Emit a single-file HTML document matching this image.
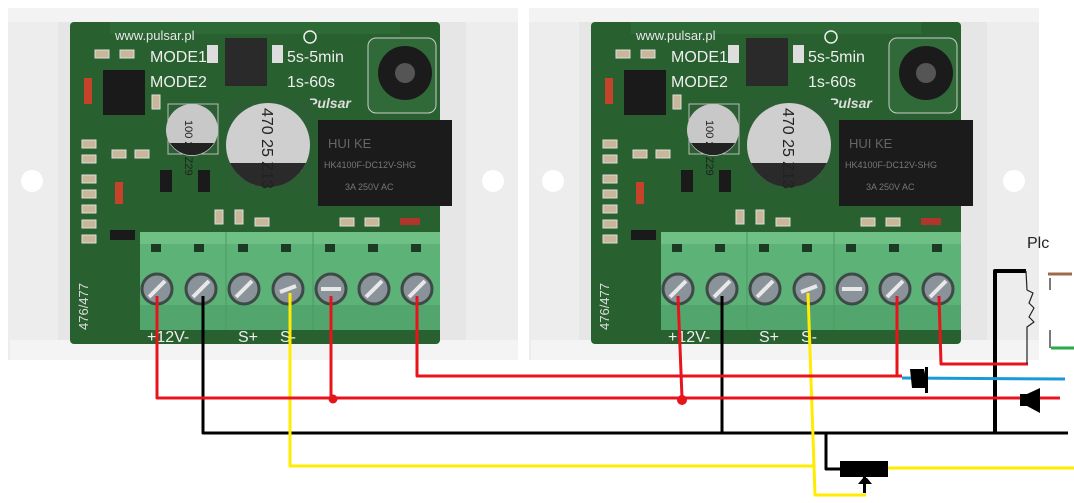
<!DOCTYPE html>
<html><head><meta charset="utf-8"><style>
html,body{margin:0;padding:0;background:#fff;}
svg{display:block;}
text{font-family:"Liberation Sans",sans-serif;}
</style></head><body>
<svg width="1074" height="503" viewBox="0 0 1074 503" xmlns="http://www.w3.org/2000/svg">
<rect width="1074" height="503" fill="#fff"/>

<!-- BOARD 1 -->
<g transform="translate(0,0)">
  <rect x="8" y="8" width="510" height="352" fill="#e6e6e6"/>
  <rect x="8" y="8" width="510" height="14" fill="#f3f3f3"/>
  <rect x="8" y="22" width="50" height="338" fill="#ededed"/>
  <rect x="466" y="22" width="52" height="338" fill="#ededed"/>
  <rect x="10" y="340" width="508" height="20" fill="#f4f4f4"/>
  <circle cx="32" cy="181" r="11" fill="#fff"/>
  <circle cx="493" cy="181" r="11" fill="#fff"/>
  <rect x="70" y="22" width="370" height="322" rx="4" fill="#28602f"/>
  <rect x="110" y="22" width="290" height="12" fill="#2e6a36"/>
  <g fill="#c9b79a" stroke="#ddd" stroke-width="1">
    <rect x="82" y="140" width="14" height="8"/><rect x="82" y="155" width="14" height="8"/>
    <rect x="82" y="175" width="14" height="8"/><rect x="82" y="190" width="14" height="8"/>
    <rect x="82" y="205" width="14" height="8"/><rect x="82" y="220" width="14" height="8"/>
    <rect x="82" y="235" width="14" height="8"/><rect x="112" y="150" width="14" height="8"/>
    <rect x="135" y="150" width="14" height="8"/><rect x="95" y="50" width="14" height="8"/>
    <rect x="120" y="50" width="14" height="8"/><rect x="152" y="95" width="8" height="14"/>
    <rect x="215" y="210" width="8" height="14"/><rect x="235" y="210" width="8" height="14"/>
    <rect x="255" y="218" width="14" height="8"/><rect x="340" y="218" width="14" height="8"/>
    <rect x="365" y="218" width="14" height="8"/>
  </g>
  <rect x="84" y="78" width="8" height="26" fill="#c4432a"/>
  <rect x="115" y="182" width="8" height="22" fill="#c4432a"/>
  <rect x="400" y="218" width="20" height="7" fill="#b0352a"/>
  <g fill="#1a1a1a"><rect x="160" y="170" width="12" height="22"/><rect x="198" y="170" width="12" height="22"/><rect x="110" y="230" width="25" height="10"/></g>
  <text x="115" y="40" font-size="13" fill="#e8e8e8">www.pulsar.pl</text>
  <text x="150" y="62" font-size="16" fill="#eee">MODE1</text>
  <text x="150" y="87" font-size="16" fill="#eee">MODE2</text>
  <rect x="207" y="45" width="11" height="18" fill="#ddd"/>
  <rect x="272" y="45" width="11" height="18" fill="#ddd"/>
  <rect x="225" y="38" width="42" height="48" fill="#2a2a2a"/>
  <text x="287" y="62" font-size="16" fill="#eee">5s-5min</text>
  <text x="287" y="87" font-size="16" fill="#eee">1s-60s</text>
  <circle cx="310" cy="37" r="6" fill="none" stroke="#eee" stroke-width="1.5"/>
  <text x="308" y="108" font-size="14" font-style="italic" font-weight="bold" fill="#ddd">Pulsar</text>
  <rect x="368" y="38" width="68" height="75" rx="8" fill="#2f6a38" stroke="#ccc" stroke-width="1"/>
  <circle cx="405" cy="73" r="27" fill="#1b1b1b"/>
  <circle cx="405" cy="73" r="10" fill="#555"/>
  <rect x="103" y="70" width="42" height="45" fill="#1a1a1a"/>
  <rect x="168" y="104" width="50" height="50" fill="#2b5f33" stroke="#bbb" stroke-width="1"/>
  <circle cx="192" cy="130" r="26" fill="#c8c8c8"/>
  <path d="M170 143 A26 26 0 0 0 214 143 Z" fill="#222"/>
  <text x="180" y="135" font-size="11" fill="#222" transform="rotate(90 190 130)">100 25 Z29</text>
  <rect x="228" y="100" width="85" height="90" fill="#2b5f33"/>
  <circle cx="268" cy="145" r="42" fill="#cfcfcf"/>
  <path d="M230 163 A42 42 0 0 0 306 163 Z" fill="#2a2a2a"/>
  <text x="236" y="146" font-size="16" fill="#222" transform="rotate(90 268 140)">470 25 Z13</text>
  <rect x="318" y="120" width="134" height="86" fill="#1b1b1b"/>
  <text x="328" y="148" font-size="13" fill="#666">HUI KE</text>
  <text x="324" y="168" font-size="9" fill="#777">HK4100F-DC12V-SHG</text>
  <text x="345" y="190" font-size="9" fill="#777">3A 250V AC</text>
  <rect x="140" y="232" width="300" height="98" fill="#5db277"/>
  <rect x="140" y="232" width="300" height="12" fill="#6ec085"/>
  <rect x="140" y="305" width="300" height="25" fill="#52a56c"/>
  <line x1="226" y1="232" x2="226" y2="330" stroke="#4a9a62"/>
  <line x1="313" y1="232" x2="313" y2="330" stroke="#4a9a62"/>
  <g fill="#1d3a24">
    <rect x="151" y="244" width="10" height="8"/><rect x="194" y="244" width="10" height="8"/>
    <rect x="238" y="244" width="10" height="8"/><rect x="281" y="244" width="10" height="8"/>
    <rect x="325" y="244" width="10" height="8"/><rect x="368" y="244" width="10" height="8"/>
    <rect x="411" y="244" width="10" height="8"/>
  </g>
  <g fill="#8a939a" stroke="#3d4a45" stroke-width="3">
    <circle cx="157" cy="289" r="15"/><circle cx="201" cy="289" r="15"/>
    <circle cx="244" cy="289" r="15"/><circle cx="288" cy="289" r="15"/>
    <circle cx="331" cy="289" r="15"/><circle cx="374" cy="289" r="15"/>
    <circle cx="417" cy="289" r="15"/>
  </g>
  <g stroke="#e8e8e8" stroke-width="4">
    <line x1="149" y1="297" x2="165" y2="281"/><line x1="193" y1="297" x2="209" y2="281"/>
    <line x1="236" y1="297" x2="252" y2="281"/><line x1="280" y1="292" x2="296" y2="286"/>
    <line x1="321" y1="289" x2="341" y2="289"/><line x1="366" y1="297" x2="382" y2="281"/>
    <line x1="409" y1="297" x2="425" y2="281"/>
  </g>
  <text x="147" y="342" font-size="16" fill="#eee">+12V-</text>
  <text x="238" y="342" font-size="16" fill="#eee">S+</text>
  <text x="280" y="342" font-size="16" fill="#eee">S-</text>
  <text x="88" y="330" font-size="13" fill="#ddd" transform="rotate(-90 88 330)">476/477</text>
</g>

<!-- BOARD 2 -->
<g transform="translate(521,0)">
  <rect x="8" y="8" width="510" height="352" fill="#e6e6e6"/>
  <rect x="8" y="8" width="510" height="14" fill="#f3f3f3"/>
  <rect x="8" y="22" width="50" height="338" fill="#ededed"/>
  <rect x="466" y="22" width="52" height="338" fill="#ededed"/>
  <rect x="10" y="340" width="508" height="20" fill="#f4f4f4"/>
  <circle cx="32" cy="181" r="11" fill="#fff"/>
  <circle cx="493" cy="181" r="11" fill="#fff"/>
  <rect x="70" y="22" width="370" height="322" rx="4" fill="#28602f"/>
  <rect x="110" y="22" width="290" height="12" fill="#2e6a36"/>
  <g fill="#c9b79a" stroke="#ddd" stroke-width="1">
    <rect x="82" y="140" width="14" height="8"/><rect x="82" y="155" width="14" height="8"/>
    <rect x="82" y="175" width="14" height="8"/><rect x="82" y="190" width="14" height="8"/>
    <rect x="82" y="205" width="14" height="8"/><rect x="82" y="220" width="14" height="8"/>
    <rect x="82" y="235" width="14" height="8"/><rect x="112" y="150" width="14" height="8"/>
    <rect x="135" y="150" width="14" height="8"/><rect x="95" y="50" width="14" height="8"/>
    <rect x="120" y="50" width="14" height="8"/><rect x="152" y="95" width="8" height="14"/>
    <rect x="215" y="210" width="8" height="14"/><rect x="235" y="210" width="8" height="14"/>
    <rect x="255" y="218" width="14" height="8"/><rect x="340" y="218" width="14" height="8"/>
    <rect x="365" y="218" width="14" height="8"/>
  </g>
  <rect x="84" y="78" width="8" height="26" fill="#c4432a"/>
  <rect x="115" y="182" width="8" height="22" fill="#c4432a"/>
  <rect x="400" y="218" width="20" height="7" fill="#b0352a"/>
  <g fill="#1a1a1a"><rect x="160" y="170" width="12" height="22"/><rect x="198" y="170" width="12" height="22"/><rect x="110" y="230" width="25" height="10"/></g>
  <text x="115" y="40" font-size="13" fill="#e8e8e8">www.pulsar.pl</text>
  <text x="150" y="62" font-size="16" fill="#eee">MODE1</text>
  <text x="150" y="87" font-size="16" fill="#eee">MODE2</text>
  <rect x="207" y="45" width="11" height="18" fill="#ddd"/>
  <rect x="272" y="45" width="11" height="18" fill="#ddd"/>
  <rect x="225" y="38" width="42" height="48" fill="#2a2a2a"/>
  <text x="287" y="62" font-size="16" fill="#eee">5s-5min</text>
  <text x="287" y="87" font-size="16" fill="#eee">1s-60s</text>
  <circle cx="310" cy="37" r="6" fill="none" stroke="#eee" stroke-width="1.5"/>
  <text x="308" y="108" font-size="14" font-style="italic" font-weight="bold" fill="#ddd">Pulsar</text>
  <rect x="368" y="38" width="68" height="75" rx="8" fill="#2f6a38" stroke="#ccc" stroke-width="1"/>
  <circle cx="405" cy="73" r="27" fill="#1b1b1b"/>
  <circle cx="405" cy="73" r="10" fill="#555"/>
  <rect x="103" y="70" width="42" height="45" fill="#1a1a1a"/>
  <rect x="168" y="104" width="50" height="50" fill="#2b5f33" stroke="#bbb" stroke-width="1"/>
  <circle cx="192" cy="130" r="26" fill="#c8c8c8"/>
  <path d="M170 143 A26 26 0 0 0 214 143 Z" fill="#222"/>
  <text x="180" y="135" font-size="11" fill="#222" transform="rotate(90 190 130)">100 25 Z29</text>
  <rect x="228" y="100" width="85" height="90" fill="#2b5f33"/>
  <circle cx="268" cy="145" r="42" fill="#cfcfcf"/>
  <path d="M230 163 A42 42 0 0 0 306 163 Z" fill="#2a2a2a"/>
  <text x="236" y="146" font-size="16" fill="#222" transform="rotate(90 268 140)">470 25 Z13</text>
  <rect x="318" y="120" width="134" height="86" fill="#1b1b1b"/>
  <text x="328" y="148" font-size="13" fill="#666">HUI KE</text>
  <text x="324" y="168" font-size="9" fill="#777">HK4100F-DC12V-SHG</text>
  <text x="345" y="190" font-size="9" fill="#777">3A 250V AC</text>
  <rect x="140" y="232" width="300" height="98" fill="#5db277"/>
  <rect x="140" y="232" width="300" height="12" fill="#6ec085"/>
  <rect x="140" y="305" width="300" height="25" fill="#52a56c"/>
  <line x1="226" y1="232" x2="226" y2="330" stroke="#4a9a62"/>
  <line x1="313" y1="232" x2="313" y2="330" stroke="#4a9a62"/>
  <g fill="#1d3a24">
    <rect x="151" y="244" width="10" height="8"/><rect x="194" y="244" width="10" height="8"/>
    <rect x="238" y="244" width="10" height="8"/><rect x="281" y="244" width="10" height="8"/>
    <rect x="325" y="244" width="10" height="8"/><rect x="368" y="244" width="10" height="8"/>
    <rect x="411" y="244" width="10" height="8"/>
  </g>
  <g fill="#8a939a" stroke="#3d4a45" stroke-width="3">
    <circle cx="157" cy="289" r="15"/><circle cx="201" cy="289" r="15"/>
    <circle cx="244" cy="289" r="15"/><circle cx="288" cy="289" r="15"/>
    <circle cx="331" cy="289" r="15"/><circle cx="374" cy="289" r="15"/>
    <circle cx="417" cy="289" r="15"/>
  </g>
  <g stroke="#e8e8e8" stroke-width="4">
    <line x1="149" y1="297" x2="165" y2="281"/><line x1="193" y1="297" x2="209" y2="281"/>
    <line x1="236" y1="297" x2="252" y2="281"/><line x1="280" y1="292" x2="296" y2="286"/>
    <line x1="321" y1="289" x2="341" y2="289"/><line x1="366" y1="297" x2="382" y2="281"/>
    <line x1="409" y1="297" x2="425" y2="281"/>
  </g>
  <text x="147" y="342" font-size="16" fill="#eee">+12V-</text>
  <text x="238" y="342" font-size="16" fill="#eee">S+</text>
  <text x="280" y="342" font-size="16" fill="#eee">S-</text>
  <text x="88" y="330" font-size="13" fill="#ddd" transform="rotate(-90 88 330)">476/477</text>
</g>

<!-- WIRES -->
<g fill="none" stroke-width="3" stroke-linejoin="round">
  <polyline points="203,296 203,433 1068,433" stroke="#000"/>
  <polyline points="722,296 722,433" stroke="#000"/>
  <polyline points="995,433 995,271 1026,271" stroke="#000" stroke-width="4"/>
  <polyline points="826,433 826,469 842,469" stroke="#000"/>
  <polyline points="290,293 290,466 815,466" stroke="#ffec00"/>
  <polyline points="808,293 815,495 866,495" stroke="#ffec00"/>
  <line x1="888" y1="468" x2="1074" y2="468" stroke="#ffec00"/>
  <polyline points="157,296 157,398 1060,398" stroke="#e8141c"/>
  <polyline points="331,296 331,398" stroke="#e8141c"/>
  <polyline points="678,296 682,398" stroke="#e8141c"/>
  <polyline points="417,296 417,376 902,376" stroke="#e8141c"/>
  <polyline points="897,296 897,376" stroke="#e8141c"/>
  <polyline points="939,296 941,364 1028,364" stroke="#e8141c"/>
  <line x1="902" y1="378" x2="1065" y2="379" stroke="#1a9ad8"/>
  <polyline points="1026,271 1027,290 1033,293 1029,303 1034,308 1029,317 1034,322 1027,327 1027,364" stroke="#222" stroke-width="1.2"/>
  <line x1="1048" y1="274" x2="1072" y2="274" stroke="#a0694a"/>
  <line x1="1051" y1="348" x2="1074" y2="348" stroke="#2aa84a"/>
  <polyline points="1050,278 1050,290" stroke="#222" stroke-width="1.2"/>
  <polyline points="1050,330 1050,348" stroke="#222" stroke-width="1.2"/>
</g>
<circle cx="333" cy="399" r="4.5" fill="#e8141c"/>
<circle cx="682" cy="400" r="5" fill="#e8141c"/>
<path d="M910 369 L924 369 L928 388 L912 388 Z" fill="#000"/>
<rect x="925" y="367" width="3" height="26" fill="#000"/>
<rect x="1020" y="394" width="7" height="12" fill="#000"/>
<path d="M1027 394 L1040 388 L1040 413 L1027 406 Z" fill="#000"/>
<rect x="840" y="461" width="48" height="16" fill="#000"/>
<path d="M858 484 L872 484 L867 478 L863 478 Z" fill="#000"/>
<rect x="863" y="477" width="3" height="16" fill="#000"/>
<text x="1027" y="248" font-size="16" fill="#222" font-family="Liberation Serif,serif">Plc</text>
</svg>
</body></html>
